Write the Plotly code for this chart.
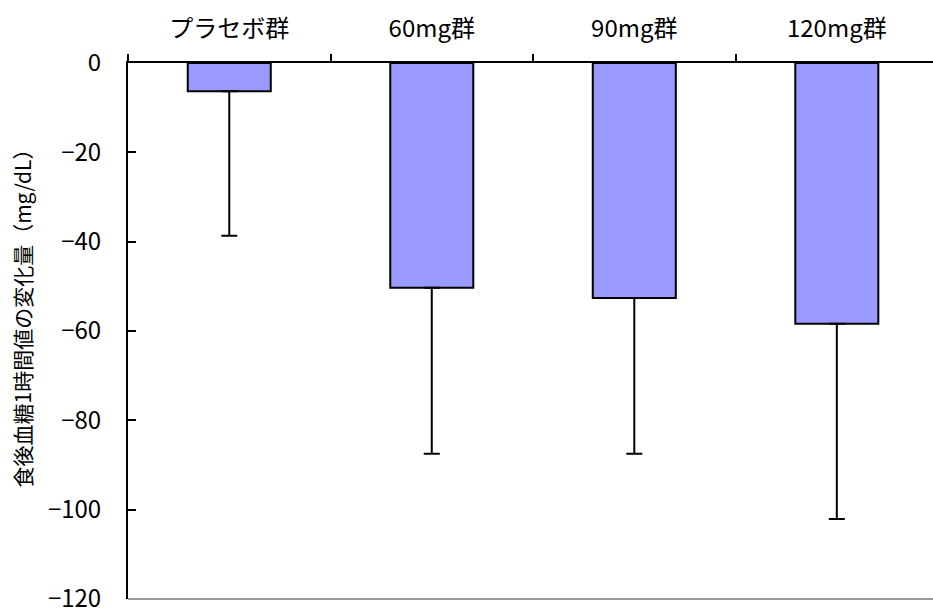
import plotly.graph_objects as go

# Treatment groups and mean change in 1-hour postprandial glucose (mg/dL)
groups = ["プラセボ群", "60mg群", "90mg群", "120mg群"]
mean_change = [-6.3, -50.3, -52.6, -58.4]
sd_lower = [32.4, 37.2, 34.9, 43.7]

y_ticks = [0, -20, -40, -60, -80, -100, -120]

FONT = "Noto Sans CJK JP"

fig = go.Figure()
fig.add_trace(go.Bar(
    x=groups,
    y=mean_change,
    width=0.41,
    marker=dict(color="#9999FF", line=dict(color="#000000", width=2)),
    error_y=dict(
        type="data",
        symmetric=False,
        array=[0] * len(sd_lower),
        arrayminus=sd_lower,
        color="#000000",
        thickness=2,
        width=8,
    ),
    showlegend=False,
    cliponaxis=False,
))

# Lower frame line of the plot area
fig.add_shape(type="line", xref="paper", yref="paper", x0=0, x1=1, y0=0, y1=0,
              line=dict(color="#999999", width=2))

fig.add_annotation(
    text="食後血糖1時間値の変化量（mg/dL）",
    xref="paper", yref="paper", x=-0.132, y=0.534,
    xanchor="center", yanchor="middle", textangle=-90, showarrow=False,
    font=dict(family=FONT, size=21, color="#000000"),
)

fig.update_layout(
    width=933, height=609,
    margin=dict(l=128, r=0, t=63, b=10, autoexpand=False),
    paper_bgcolor="#ffffff", plot_bgcolor="#ffffff",
    font=dict(family=FONT, color="#000000"),
    xaxis=dict(
        side="top",
        type="category",
        range=[-0.5, 3.475],
        tickson="boundaries",
        ticks="outside", ticklen=7, tickwidth=1.5, tickcolor="#000000",
        showline=True, linecolor="#000000", linewidth=2,
        showgrid=False, zeroline=False,
        tickfont=dict(family=FONT, size=24, color="#000000"),
        ticklabelstandoff=14,
        automargin=False,
    ),
    yaxis=dict(
        range=[-120, 0],
        tickmode="array", tickvals=y_ticks,
        ticktext=[str(v).replace("-", "−") for v in y_ticks],
        ticks="inside", ticklen=8, tickwidth=1.5, tickcolor="#000000",
        showline=True, linecolor="#000000", linewidth=2,
        showgrid=False, zeroline=False,
        tickfont=dict(family=FONT, size=24, color="#000000"),
        ticklabelstandoff=20,
        ticklabeloverflow="allow",
        automargin=False,
    ),
)

fig.write_html("out.html")
